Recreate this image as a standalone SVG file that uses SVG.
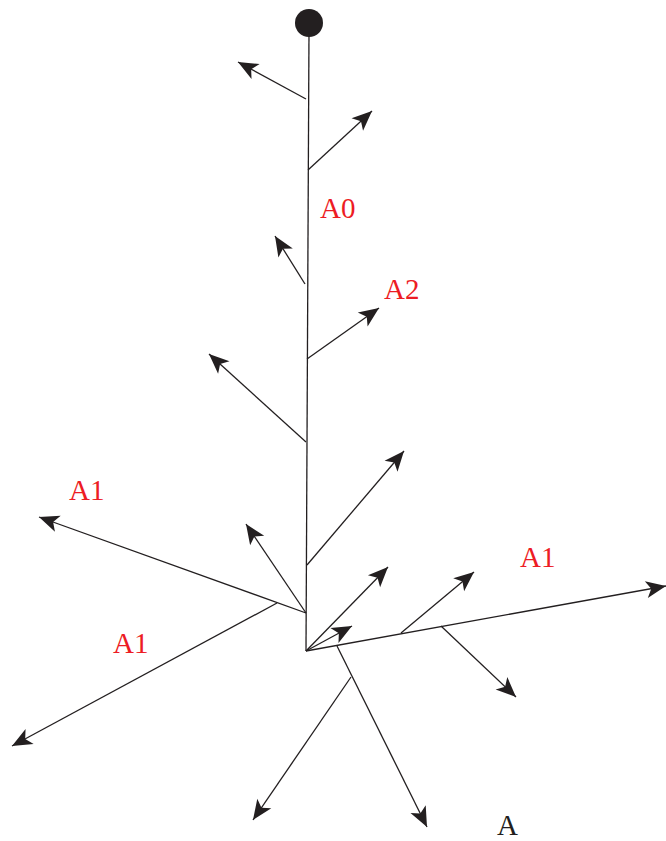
<svg xmlns="http://www.w3.org/2000/svg" width="666" height="841" viewBox="0 0 666 841">
<style>
.ln{stroke:#231f20;stroke-width:1.3;fill:none}
.ar{stroke:#231f20;stroke-width:1.3;fill:none;marker-end:url(#ah)}
.lbl{font-family:"Liberation Serif","Times New Roman",serif;font-size:29px;fill:#ed1c24}
.lblk{font-family:"Liberation Serif","Times New Roman",serif;font-size:29px;fill:#231f20}
</style>
<defs>
<marker id="ah" markerUnits="userSpaceOnUse" viewBox="-21 -10 22 20" markerWidth="22" markerHeight="20" refX="0" refY="0" orient="auto">
<path d="M0,0 L-20,-8.5 L-15,0 L-20,8.5 Z" fill="#231f20"/>
</marker>
</defs>
<rect width="666" height="841" fill="#ffffff"/>
<g id="root">
<circle cx="309" cy="23" r="14" fill="#231f20"/>
</g>
<g id="connectors">
<line class="ln" x1="309" y1="30" x2="306" y2="651"/>
<line class="ar" x1="306" y1="99" x2="238" y2="62"/>
<line class="ar" x1="308" y1="170" x2="372" y2="111"/>
<line class="ar" x1="305" y1="284" x2="275" y2="236"/>
<line class="ar" x1="307" y1="359" x2="379" y2="308"/>
<line class="ar" x1="306" y1="442" x2="209" y2="354"/>
<line class="ar" x1="307" y1="565" x2="404" y2="451"/>
<line class="ar" x1="306" y1="613" x2="246" y2="524"/>
<line class="ar" x1="306" y1="613" x2="39" y2="517"/>
<line class="ar" x1="277" y1="603" x2="12" y2="746"/>
<line class="ar" x1="306" y1="651" x2="388" y2="567"/>
<line class="ar" x1="306" y1="651" x2="352" y2="626"/>
<line class="ar" x1="306" y1="651" x2="666" y2="586"/>
<line class="ar" x1="401" y1="633" x2="474" y2="572"/>
<line class="ar" x1="441" y1="626" x2="516" y2="697"/>
<line class="ar" x1="337" y1="646" x2="427" y2="827"/>
<line class="ar" x1="351" y1="677" x2="253" y2="820"/>
</g>
<g id="labels">
<text class="lbl" x="320" y="218">A0</text>
<text class="lbl" x="384" y="299">A2</text>
<text class="lbl" x="69" y="500">A1</text>
<text class="lbl" x="113" y="653">A1</text>
<text class="lbl" x="520" y="567">A1</text>
<text class="lblk" x="497" y="835">A</text>
</g>
</svg>
